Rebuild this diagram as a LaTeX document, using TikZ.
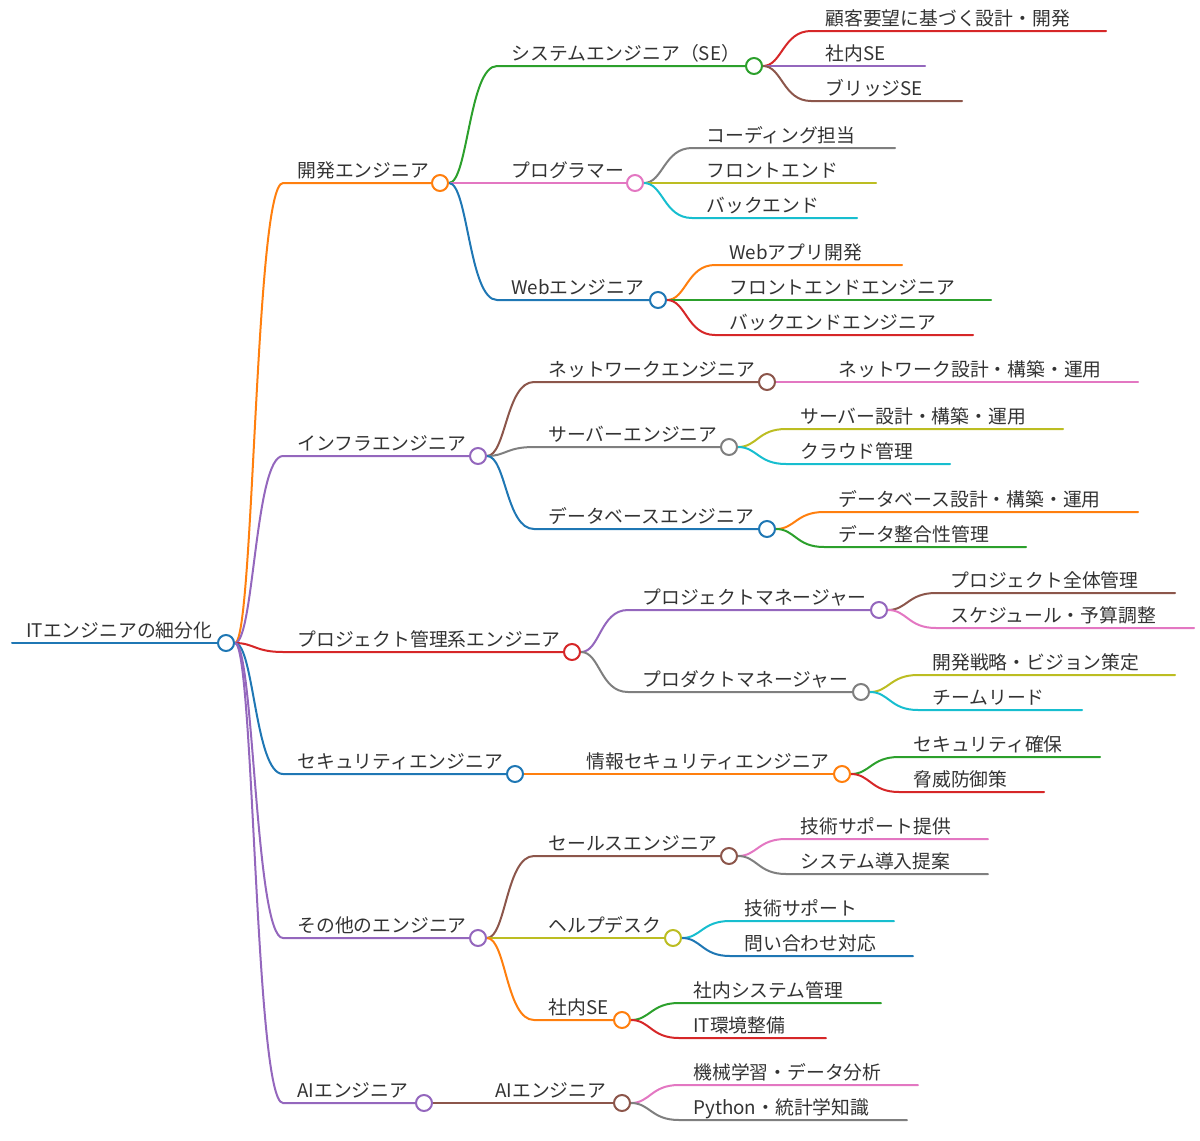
\documentclass[tikz,border=0pt]{standalone}
\usepackage{fontspec}
\newfontfamily\jpfont{Noto Sans CJK JP}
\usepackage{tikz}
\usetikzlibrary{backgrounds}
\definecolor{MapBlue}{HTML}{1F77B4}
\definecolor{MapOrange}{HTML}{FF7F0E}
\definecolor{MapGreen}{HTML}{2CA02C}
\definecolor{MapRed}{HTML}{D62728}
\definecolor{MapPurple}{HTML}{9467BD}
\definecolor{MapBrown}{HTML}{8C564B}
\definecolor{MapPink}{HTML}{E377C2}
\definecolor{MapGray}{HTML}{7F7F7F}
\definecolor{MapOlive}{HTML}{BCBD22}
\definecolor{MapCyan}{HTML}{17BECF}
\definecolor{InkGray}{HTML}{333333}
\tikzset{
  topic/.style={anchor=south west, inner xsep=7pt, inner ysep=2.4pt, text depth=0pt, text=InkGray, font=\jpfont\fontsize{9.4pt}{11pt}\selectfont},
  hub/.style={circle, draw=#1, fill=white, line width=1pt, minimum size=8pt, inner sep=0pt},
  branchline/.style={draw=#1, line width=1pt, line cap=round},
  curveto/.style={to path={.. controls +(28,0) and +(-28,0) .. (\tikztotarget)}}
}

\begin{document}
\begin{tikzpicture}[x=0.5pt, y=-0.5pt]
  \useasboundingbox (0,0) rectangle (1200,1141);

  % Root
  \node[hub=MapBlue] (root) at (226,643) {};
  \node[topic] (root-t) at (12,643) {ITエンジニアの細分化};

  % First level
  \node[hub=MapOrange] (dev) at (440,183) {};
  \node[topic] (dev-t) at (283,183) {開発エンジニア};
  \node[hub=MapPurple] (infra) at (478,456) {};
  \node[topic] (infra-t) at (283,456) {インフラエンジニア};
  \node[hub=MapRed] (pm) at (572,652) {};
  \node[topic] (pm-t) at (283,652) {プロジェクト管理系エンジニア};
  \node[hub=MapBlue] (sec) at (515,774) {};
  \node[topic] (sec-t) at (283,774) {セキュリティエンジニア};
  \node[hub=MapPurple] (other) at (478,938) {};
  \node[topic] (other-t) at (283,938) {その他のエンジニア};
  \node[hub=MapPurple] (ai) at (424,1103) {};
  \node[topic] (ai-t) at (283,1103) {AIエンジニア};

  % Development
  \node[hub=MapGreen] (se) at (754,66) {};
  \node[topic] (se-t) at (497,66) {システムエンジニア（SE）};
  \node[hub=MapPink] (prog) at (635,183) {};
  \node[topic] (prog-t) at (497,183) {プログラマー};
  \node[hub=MapBlue] (web) at (658,300) {};
  \node[topic] (web-t) at (497,300) {Webエンジニア};

  \coordinate (se-a) at (1106,31);
  \node[topic] (se-a-t) at (811,31) {顧客要望に基づく設計・開発};
  \coordinate (se-b) at (925,66);
  \node[topic] (se-b-t) at (811,66) {社内SE};
  \coordinate (se-c) at (962,101);
  \node[topic] (se-c-t) at (811,101) {ブリッジSE};

  \coordinate (prog-a) at (895,148);
  \node[topic] (prog-a-t) at (692,148) {コーディング担当};
  \coordinate (prog-b) at (876,183);
  \node[topic] (prog-b-t) at (692,183) {フロントエンド};
  \coordinate (prog-c) at (857,218);
  \node[topic] (prog-c-t) at (692,218) {バックエンド};

  \coordinate (web-a) at (902,265);
  \node[topic] (web-a-t) at (715,265) {Webアプリ開発};
  \coordinate (web-b) at (991,300);
  \node[topic] (web-b-t) at (715,300) {フロントエンドエンジニア};
  \coordinate (web-c) at (973,335);
  \node[topic] (web-c-t) at (715,335) {バックエンドエンジニア};

  % Infrastructure
  \node[hub=MapBrown] (net) at (767,382) {};
  \node[topic] (net-t) at (534,382) {ネットワークエンジニア};
  \node[hub=MapGray] (srv) at (729,447) {};
  \node[topic] (srv-t) at (534,447) {サーバーエンジニア};
  \node[hub=MapBlue] (db) at (767,529) {};
  \node[topic] (db-t) at (534,529) {データベースエンジニア};

  \coordinate (net-a) at (1138,382);
  \node[topic] (net-a-t) at (824,382) {ネットワーク設計・構築・運用};
  \coordinate (srv-a) at (1063,429);
  \node[topic] (srv-a-t) at (786,429) {サーバー設計・構築・運用};
  \coordinate (srv-b) at (950,464);
  \node[topic] (srv-b-t) at (786,464) {クラウド管理};
  \coordinate (db-a) at (1138,512);
  \node[topic] (db-a-t) at (824,512) {データベース設計・構築・運用};
  \coordinate (db-b) at (1026,547);
  \node[topic] (db-b-t) at (824,547) {データ整合性管理};

  % Project management
  \node[hub=MapPurple] (pjm) at (879,610) {};
  \node[topic] (pjm-t) at (628,610) {プロジェクトマネージャー};
  \node[hub=MapGray] (pdm) at (861,692) {};
  \node[topic] (pdm-t) at (628,692) {プロダクトマネージャー};

  \coordinate (pjm-a) at (1175,593);
  \node[topic] (pjm-a-t) at (936,593) {プロジェクト全体管理};
  \coordinate (pjm-b) at (1194,628);
  \node[topic] (pjm-b-t) at (936,628) {スケジュール・予算調整};
  \coordinate (pdm-a) at (1175,675);
  \node[topic] (pdm-a-t) at (918,675) {開発戦略・ビジョン策定};
  \coordinate (pdm-b) at (1082,710);
  \node[topic] (pdm-b-t) at (918,710) {チームリード};

  % Security
  \node[hub=MapOrange] (isec) at (842,774) {};
  \node[topic] (isec-t) at (572,774) {情報セキュリティエンジニア};
  \coordinate (isec-a) at (1100,757);
  \node[topic] (isec-a-t) at (899,757) {セキュリティ確保};
  \coordinate (isec-b) at (1044,792);
  \node[topic] (isec-b-t) at (899,792) {脅威防御策};

  % Other
  \node[hub=MapBrown] (sales) at (729,856) {};
  \node[topic] (sales-t) at (534,856) {セールスエンジニア};
  \node[hub=MapOlive] (help) at (673,938) {};
  \node[topic] (help-t) at (534,938) {ヘルプデスク};
  \node[hub=MapOrange] (inse) at (622,1020) {};
  \node[topic] (inse-t) at (534,1020) {社内SE};

  \coordinate (sales-a) at (988,839);
  \node[topic] (sales-a-t) at (786,839) {技術サポート提供};
  \coordinate (sales-b) at (988,874);
  \node[topic] (sales-b-t) at (786,874) {システム導入提案};
  \coordinate (help-a) at (894,921);
  \node[topic] (help-a-t) at (730,921) {技術サポート};
  \coordinate (help-b) at (913,956);
  \node[topic] (help-b-t) at (730,956) {問い合わせ対応};
  \coordinate (inse-a) at (881,1003);
  \node[topic] (inse-a-t) at (679,1003) {社内システム管理};
  \coordinate (inse-b) at (826,1038);
  \node[topic] (inse-b-t) at (679,1038) {IT環境整備};

  % AI
  \node[hub=MapBrown] (aie) at (622,1103) {};
  \node[topic] (aie-t) at (481,1103) {AIエンジニア};
  \coordinate (aie-a) at (918,1085);
  \node[topic] (aie-a-t) at (679,1085) {機械学習・データ分析};
  \coordinate (aie-b) at (907,1120);
  \node[topic] (aie-b-t) at (679,1120) {Python・統計学知識};

  % Branches
  \begin{scope}[on background layer]
    \draw[branchline=MapBlue] (root-t.south west) -- (root);
    \draw[branchline=MapOrange] (root) to[curveto] (dev-t.south west) -- (dev);
    \draw[branchline=MapPurple] (root) to[curveto] (infra-t.south west) -- (infra);
    \draw[branchline=MapRed] (root) to[curveto] (pm-t.south west) -- (pm);
    \draw[branchline=MapBlue] (root) to[curveto] (sec-t.south west) -- (sec);
    \draw[branchline=MapPurple] (root) to[curveto] (other-t.south west) -- (other);
    \draw[branchline=MapPurple] (root) to[curveto] (ai-t.south west) -- (ai);

    \draw[branchline=MapGreen] (dev) to[curveto] (se-t.south west) -- (se);
    \draw[branchline=MapPink] (dev) to[curveto] (prog-t.south west) -- (prog);
    \draw[branchline=MapBlue] (dev) to[curveto] (web-t.south west) -- (web);
    \draw[branchline=MapRed] (se) to[curveto] (se-a-t.south west) -- (se-a);
    \draw[branchline=MapPurple] (se) to[curveto] (se-b-t.south west) -- (se-b);
    \draw[branchline=MapBrown] (se) to[curveto] (se-c-t.south west) -- (se-c);
    \draw[branchline=MapGray] (prog) to[curveto] (prog-a-t.south west) -- (prog-a);
    \draw[branchline=MapOlive] (prog) to[curveto] (prog-b-t.south west) -- (prog-b);
    \draw[branchline=MapCyan] (prog) to[curveto] (prog-c-t.south west) -- (prog-c);
    \draw[branchline=MapOrange] (web) to[curveto] (web-a-t.south west) -- (web-a);
    \draw[branchline=MapGreen] (web) to[curveto] (web-b-t.south west) -- (web-b);
    \draw[branchline=MapRed] (web) to[curveto] (web-c-t.south west) -- (web-c);

    \draw[branchline=MapBrown] (infra) to[curveto] (net-t.south west) -- (net);
    \draw[branchline=MapGray] (infra) to[curveto] (srv-t.south west) -- (srv);
    \draw[branchline=MapBlue] (infra) to[curveto] (db-t.south west) -- (db);
    \draw[branchline=MapPink] (net) to[curveto] (net-a-t.south west) -- (net-a);
    \draw[branchline=MapOlive] (srv) to[curveto] (srv-a-t.south west) -- (srv-a);
    \draw[branchline=MapCyan] (srv) to[curveto] (srv-b-t.south west) -- (srv-b);
    \draw[branchline=MapOrange] (db) to[curveto] (db-a-t.south west) -- (db-a);
    \draw[branchline=MapGreen] (db) to[curveto] (db-b-t.south west) -- (db-b);

    \draw[branchline=MapPurple] (pm) to[curveto] (pjm-t.south west) -- (pjm);
    \draw[branchline=MapGray] (pm) to[curveto] (pdm-t.south west) -- (pdm);
    \draw[branchline=MapBrown] (pjm) to[curveto] (pjm-a-t.south west) -- (pjm-a);
    \draw[branchline=MapPink] (pjm) to[curveto] (pjm-b-t.south west) -- (pjm-b);
    \draw[branchline=MapOlive] (pdm) to[curveto] (pdm-a-t.south west) -- (pdm-a);
    \draw[branchline=MapCyan] (pdm) to[curveto] (pdm-b-t.south west) -- (pdm-b);

    \draw[branchline=MapOrange] (sec) to[curveto] (isec-t.south west) -- (isec);
    \draw[branchline=MapGreen] (isec) to[curveto] (isec-a-t.south west) -- (isec-a);
    \draw[branchline=MapRed] (isec) to[curveto] (isec-b-t.south west) -- (isec-b);

    \draw[branchline=MapBrown] (other) to[curveto] (sales-t.south west) -- (sales);
    \draw[branchline=MapOlive] (other) to[curveto] (help-t.south west) -- (help);
    \draw[branchline=MapOrange] (other) to[curveto] (inse-t.south west) -- (inse);
    \draw[branchline=MapPink] (sales) to[curveto] (sales-a-t.south west) -- (sales-a);
    \draw[branchline=MapGray] (sales) to[curveto] (sales-b-t.south west) -- (sales-b);
    \draw[branchline=MapCyan] (help) to[curveto] (help-a-t.south west) -- (help-a);
    \draw[branchline=MapBlue] (help) to[curveto] (help-b-t.south west) -- (help-b);
    \draw[branchline=MapGreen] (inse) to[curveto] (inse-a-t.south west) -- (inse-a);
    \draw[branchline=MapRed] (inse) to[curveto] (inse-b-t.south west) -- (inse-b);

    \draw[branchline=MapBrown] (ai) to[curveto] (aie-t.south west) -- (aie);
    \draw[branchline=MapPink] (aie) to[curveto] (aie-a-t.south west) -- (aie-a);
    \draw[branchline=MapGray] (aie) to[curveto] (aie-b-t.south west) -- (aie-b);
  \end{scope}
\end{tikzpicture}
\end{document}
